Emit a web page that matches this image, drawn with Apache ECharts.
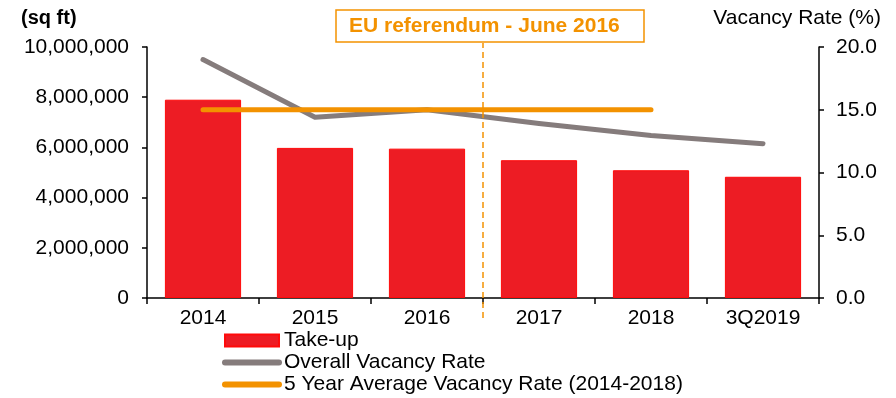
<!DOCTYPE html>
<html>
<head>
<meta charset="utf-8">
<script src="https://cdn.jsdelivr.net/npm/echarts@6/dist/echarts.min.js"></script>
<style>
  html, body { margin: 0; padding: 0; background: #ffffff; }
  #chart { width: 896px; height: 398px; }
</style>
</head>
<body>
<div id="chart"></div>
<script>
// Office take-up and vacancy, 2014 – 3Q2019
const categories = ['2014', '2015', '2016', '2017', '2018', '3Q2019'];
const takeUp = [7900000, 5980000, 5950000, 5490000, 5090000, 4830000];
const overallVacancy = [19.0, 14.4, 15.0, 13.9, 12.95, 12.3];
const fiveYearAverage = [15.0, 15.0, 15.0, 15.0, 15.0, null];
const leftTicks = { min: 0, max: 10000000, interval: 2000000 };
const rightTicks = { min: 0, max: 20, interval: 5 };
// Referendum marker sits on the boundary between 2016 and 2017
const referendumPosition = 3;
const referendumLabel = 'EU referendum - June 2016';

const FONT = "'Liberation Sans', Arial, sans-serif";
const RED = '#ed1c24';
const GREY = '#857c7c';
const ORANGE = '#f39200';
const FS = 21;

const chart = echarts.init(document.getElementById('chart'), null, { renderer: 'canvas' });

const axisLine = { show: true, lineStyle: { color: '#000', width: 1.5 } };
const axisTick = { show: true, length: 5, lineStyle: { color: '#000', width: 1.5 } };
const hiddenSymbol = { color: 'rgba(0,0,0,0)', borderWidth: 0 };

chart.setOption({
  animation: false,
  backgroundColor: '#ffffff',
  textStyle: { fontFamily: FONT },
  title: [
    { text: '(sq ft)', left: 16, top: 3,
      textStyle: { fontFamily: FONT, fontSize: 20, fontWeight: 'bold', color: '#000' } },
    { text: 'Vacancy Rate (%)', right: 10, top: 3,
      textStyle: { fontFamily: FONT, fontSize: FS, fontWeight: 'normal', color: '#000' } },
    { text: referendumLabel, left: 336, top: 10,
      borderColor: ORANGE, borderWidth: 1.5,
      padding: [6, 24, 5, 13],
      textStyle: { fontFamily: FONT, fontSize: FS, fontWeight: 'bold', color: ORANGE } }
  ],
  legend: {
    orient: 'vertical',
    left: 222, top: 330, height: 90, padding: 0,
    itemWidth: 54, itemHeight: 12, itemGap: 1,
    textStyle: { fontFamily: FONT, fontSize: FS, color: '#000', lineHeight: 21 },
    lineStyle: { width: 6, cap: 'round' },
    data: [
      { name: 'Take-up', icon: 'rect' },
      { name: 'Overall Vacancy Rate', itemStyle: hiddenSymbol },
      { name: '5 Year Average Vacancy Rate (2014-2018)', itemStyle: hiddenSymbol }
    ]
  },
  grid: [
    { left: 147, right: 77, top: 47, bottom: 100 },
    { left: 147, right: 77, top: 43, bottom: 80 }
  ],
  xAxis: [
    { type: 'category', data: categories, gridIndex: 0,
      axisLine: axisLine,
      axisTick: { show: true, length: 6, lineStyle: { color: '#000', width: 1.5 } },
      axisLabel: { fontFamily: FONT, fontSize: FS, color: '#000', margin: 10 } },
    { type: 'value', gridIndex: 1, min: 0, max: categories.length, show: false }
  ],
  yAxis: [
    { type: 'value', gridIndex: 0, position: 'left',
      min: leftTicks.min, max: leftTicks.max, interval: leftTicks.interval,
      axisLine: axisLine, axisTick: axisTick, splitLine: { show: false },
      axisLabel: { fontFamily: FONT, fontSize: FS, color: '#000', margin: 18,
        formatter: v => v.toLocaleString('en-US') } },
    { type: 'value', gridIndex: 0, position: 'right',
      min: rightTicks.min, max: rightTicks.max, interval: rightTicks.interval,
      axisLine: axisLine, axisTick: axisTick, splitLine: { show: false },
      axisLabel: { fontFamily: FONT, fontSize: FS, color: '#000', margin: 17,
        formatter: v => v.toFixed(1) } },
    { type: 'value', gridIndex: 1, min: 0, max: 1, show: false }
  ],
  series: [
    { name: 'Take-up', type: 'bar', xAxisIndex: 0, yAxisIndex: 0,
      data: takeUp, barWidth: '68%',
      itemStyle: { color: RED, borderColor: '#ff0a0a', borderWidth: 1 }, z: 2 },
    { name: 'Overall Vacancy Rate', type: 'line', xAxisIndex: 0, yAxisIndex: 1,
      data: overallVacancy, symbol: 'none',
      lineStyle: { color: GREY, width: 5, cap: 'round', join: 'round' },
      itemStyle: { color: GREY }, z: 3 },
    { name: '5 Year Average Vacancy Rate (2014-2018)', type: 'line', xAxisIndex: 0, yAxisIndex: 1,
      data: fiveYearAverage, symbol: 'none',
      lineStyle: { color: ORANGE, width: 5, cap: 'round' },
      itemStyle: { color: ORANGE }, z: 4 },
    { name: 'referendum', type: 'line', xAxisIndex: 1, yAxisIndex: 2,
      data: [[referendumPosition, 0], [referendumPosition, 1]], symbol: 'none', silent: true,
      lineStyle: { color: ORANGE, width: 1.5, type: [6, 4] }, z: 5 }
  ]
});
</script>
</body>
</html>
